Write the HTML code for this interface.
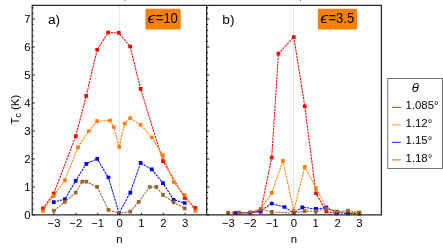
<!DOCTYPE html>
<html><head><meta charset="utf-8"><title>chart</title>
<style>
html,body{margin:0;padding:0;background:#fff;}
body{width:443px;height:248px;overflow:hidden;}
svg{display:block;font-family:"Liberation Sans",sans-serif;}
text{fill:#000;}
</style></head><body>
<svg width="443" height="248" viewBox="0 0 443 248">
<rect width="443" height="248" fill="#fff"/>
<line x1="119.5" y1="6" x2="119.5" y2="215" stroke="#e6e6e6" stroke-width="1"/>
<line x1="293.5" y1="6" x2="293.5" y2="215" stroke="#e6e6e6" stroke-width="1"/>
<g>
<polyline fill="none" stroke="#ff0000" stroke-width="1.05" stroke-dasharray="2.3 0.9" points="42.90,208.40 53.70,193.70 75.80,136.10 86.20,95.95 97.20,49.75 108.20,32.50 118.80,32.95 130.10,46.50 140.60,88.95 163.00,161.20 184.70,197.90 195.40,207.90"/>
<polyline fill="none" stroke="#ff8000" stroke-width="1.05" stroke-dasharray="2.3 0.9" points="42.90,211.00 53.70,195.80 64.90,180.45 77.90,147.40 88.80,131.00 97.10,121.10 110.05,120.50 113.80,127.00 119.20,146.90 124.70,123.65 130.15,118.00 140.55,124.80 151.80,137.50 162.80,155.10 173.60,182.00 184.70,195.20 195.40,210.90"/>
<polyline fill="none" stroke="#0000ff" stroke-width="1.05" stroke-dasharray="2.3 0.9" points="53.70,202.10 64.80,199.45 75.70,180.85 86.30,163.80 97.20,158.80 108.40,177.50 119.10,213.10 130.30,192.55 140.60,162.95 151.80,169.40 163.00,183.20 173.60,199.75 184.70,203.00"/>
<polyline fill="none" stroke="#996633" stroke-width="1.05" stroke-dasharray="2.3 0.9" points="53.90,210.70 64.80,201.95 75.70,192.70 82.20,181.60 86.40,181.60 97.10,186.90 108.40,209.95 119.10,213.10 130.30,211.55 138.70,201.95 149.80,187.00 156.30,186.80 163.00,194.95 173.60,202.30 184.70,208.45"/>
<path fill="#ff0000" d="M41.05 206.55h3.7v3.7h-3.7zM51.85 191.85h3.7v3.7h-3.7zM73.95 134.25h3.7v3.7h-3.7zM84.35 94.10h3.7v3.7h-3.7zM95.35 47.90h3.7v3.7h-3.7zM106.35 30.65h3.7v3.7h-3.7zM116.95 31.10h3.7v3.7h-3.7zM128.25 44.65h3.7v3.7h-3.7zM138.75 87.10h3.7v3.7h-3.7zM161.15 159.35h3.7v3.7h-3.7zM182.85 196.05h3.7v3.7h-3.7zM193.55 206.05h3.7v3.7h-3.7z"/>
<path fill="#ff8000" d="M41.05 209.15h3.7v3.7h-3.7zM51.85 193.95h3.7v3.7h-3.7zM63.05 178.60h3.7v3.7h-3.7zM76.05 145.55h3.7v3.7h-3.7zM86.95 129.15h3.7v3.7h-3.7zM95.25 119.25h3.7v3.7h-3.7zM108.20 118.65h3.7v3.7h-3.7zM111.95 125.15h3.7v3.7h-3.7zM117.35 145.05h3.7v3.7h-3.7zM122.85 121.80h3.7v3.7h-3.7zM128.30 116.15h3.7v3.7h-3.7zM138.70 122.95h3.7v3.7h-3.7zM149.95 135.65h3.7v3.7h-3.7zM160.95 153.25h3.7v3.7h-3.7zM171.75 180.15h3.7v3.7h-3.7zM182.85 193.35h3.7v3.7h-3.7zM193.55 209.05h3.7v3.7h-3.7z"/>
<path fill="#0000ff" d="M51.85 200.25h3.7v3.7h-3.7zM62.95 197.60h3.7v3.7h-3.7zM73.85 179.00h3.7v3.7h-3.7zM84.45 161.95h3.7v3.7h-3.7zM95.35 156.95h3.7v3.7h-3.7zM106.55 175.65h3.7v3.7h-3.7zM117.25 211.25h3.7v3.7h-3.7zM128.45 190.70h3.7v3.7h-3.7zM138.75 161.10h3.7v3.7h-3.7zM149.95 167.55h3.7v3.7h-3.7zM161.15 181.35h3.7v3.7h-3.7zM171.75 197.90h3.7v3.7h-3.7zM182.85 201.15h3.7v3.7h-3.7z"/>
<path fill="#996633" d="M52.05 208.85h3.7v3.7h-3.7zM62.95 200.10h3.7v3.7h-3.7zM73.85 190.85h3.7v3.7h-3.7zM80.35 179.75h3.7v3.7h-3.7zM84.55 179.75h3.7v3.7h-3.7zM95.25 185.05h3.7v3.7h-3.7zM106.55 208.10h3.7v3.7h-3.7zM117.25 211.25h3.7v3.7h-3.7zM128.45 209.70h3.7v3.7h-3.7zM136.85 200.10h3.7v3.7h-3.7zM147.95 185.15h3.7v3.7h-3.7zM154.45 184.95h3.7v3.7h-3.7zM161.15 193.10h3.7v3.7h-3.7zM171.75 200.45h3.7v3.7h-3.7zM182.85 206.60h3.7v3.7h-3.7z"/>
<polyline fill="none" stroke="#ff0000" stroke-width="1.05" stroke-dasharray="2.3 0.9" points="234.70,213.00 260.60,212.00 271.70,157.70 278.40,53.60 293.80,37.10 304.80,106.25 315.90,193.25 326.30,211.50 336.30,213.50"/>
<polyline fill="none" stroke="#ff8000" stroke-width="1.05" stroke-dasharray="2.3 0.9" points="250.30,212.30 260.60,209.20 271.80,192.90 282.90,160.80 293.80,210.70 304.80,166.85 315.90,187.95 326.20,207.20 337.00,212.20 348.10,212.30 359.30,212.30"/>
<polyline fill="none" stroke="#0000ff" stroke-width="1.05" stroke-dasharray="2.3 0.9" points="236.50,213.00 250.30,213.00 260.60,210.90 271.70,203.50 284.50,207.00 293.80,213.00 302.30,207.30 315.90,208.80 326.30,207.75 337.10,212.60 348.10,213.50 359.30,213.60"/>
<polyline fill="none" stroke="#996633" stroke-width="1.05" stroke-dasharray="2.3 0.9" points="228.05,212.70 239.00,212.70 250.40,212.50 260.80,209.10 271.80,211.90 293.80,213.10 304.70,211.10 315.90,211.30 326.30,208.60 337.00,211.60 348.10,210.70 359.30,212.80"/>
<path fill="#ff0000" d="M232.85 211.15h3.7v3.7h-3.7zM258.75 210.15h3.7v3.7h-3.7zM269.85 155.85h3.7v3.7h-3.7zM276.55 51.75h3.7v3.7h-3.7zM291.95 35.25h3.7v3.7h-3.7zM302.95 104.40h3.7v3.7h-3.7zM314.05 191.40h3.7v3.7h-3.7zM324.45 209.65h3.7v3.7h-3.7zM334.45 211.65h3.7v3.7h-3.7z"/>
<path fill="#ff8000" d="M248.45 210.45h3.7v3.7h-3.7zM258.75 207.35h3.7v3.7h-3.7zM269.95 191.05h3.7v3.7h-3.7zM281.05 158.95h3.7v3.7h-3.7zM291.95 208.85h3.7v3.7h-3.7zM302.95 165.00h3.7v3.7h-3.7zM314.05 186.10h3.7v3.7h-3.7zM324.35 205.35h3.7v3.7h-3.7zM335.15 210.35h3.7v3.7h-3.7zM346.25 210.45h3.7v3.7h-3.7zM357.45 210.45h3.7v3.7h-3.7z"/>
<path fill="#0000ff" d="M234.65 211.15h3.7v3.7h-3.7zM248.45 211.15h3.7v3.7h-3.7zM258.75 209.05h3.7v3.7h-3.7zM269.85 201.65h3.7v3.7h-3.7zM282.65 205.15h3.7v3.7h-3.7zM291.95 211.15h3.7v3.7h-3.7zM300.45 205.45h3.7v3.7h-3.7zM314.05 206.95h3.7v3.7h-3.7zM324.45 205.90h3.7v3.7h-3.7zM335.25 210.75h3.7v3.7h-3.7zM346.25 211.65h3.7v3.7h-3.7zM357.45 211.75h3.7v3.7h-3.7z"/>
<path fill="#996633" d="M226.20 210.85h3.7v3.7h-3.7zM237.15 210.85h3.7v3.7h-3.7zM248.55 210.65h3.7v3.7h-3.7zM258.95 207.25h3.7v3.7h-3.7zM269.95 210.05h3.7v3.7h-3.7zM291.95 211.25h3.7v3.7h-3.7zM302.85 209.25h3.7v3.7h-3.7zM314.05 209.45h3.7v3.7h-3.7zM324.45 206.75h3.7v3.7h-3.7zM335.15 209.75h3.7v3.7h-3.7zM346.25 208.85h3.7v3.7h-3.7zM357.45 210.95h3.7v3.7h-3.7z"/>
</g>
<g stroke="#262626" stroke-width="1.25" fill="none">
<path d="M32.2 214.9 V5.35 H381.4 V214.9 Z"/>
<line x1="206.65" y1="5.35" x2="206.65" y2="214.9"/>
</g>
<path d="M32.6 215.00 h2.2 M207.0 215.00 h2.2 M32.6 209.40 h1.1 M207.0 209.40 h1.1 M32.6 203.80 h1.1 M207.0 203.80 h1.1 M32.6 198.20 h1.1 M207.0 198.20 h1.1 M32.6 192.60 h1.1 M207.0 192.60 h1.1 M32.6 187.00 h2.2 M207.0 187.00 h2.2 M32.6 181.40 h1.1 M207.0 181.40 h1.1 M32.6 175.80 h1.1 M207.0 175.80 h1.1 M32.6 170.20 h1.1 M207.0 170.20 h1.1 M32.6 164.60 h1.1 M207.0 164.60 h1.1 M32.6 159.00 h2.2 M207.0 159.00 h2.2 M32.6 153.40 h1.1 M207.0 153.40 h1.1 M32.6 147.80 h1.1 M207.0 147.80 h1.1 M32.6 142.20 h1.1 M207.0 142.20 h1.1 M32.6 136.60 h1.1 M207.0 136.60 h1.1 M32.6 131.00 h2.2 M207.0 131.00 h2.2 M32.6 125.40 h1.1 M207.0 125.40 h1.1 M32.6 119.80 h1.1 M207.0 119.80 h1.1 M32.6 114.20 h1.1 M207.0 114.20 h1.1 M32.6 108.60 h1.1 M207.0 108.60 h1.1 M32.6 103.00 h2.2 M207.0 103.00 h2.2 M32.6 97.40 h1.1 M207.0 97.40 h1.1 M32.6 91.80 h1.1 M207.0 91.80 h1.1 M32.6 86.20 h1.1 M207.0 86.20 h1.1 M32.6 80.60 h1.1 M207.0 80.60 h1.1 M32.6 75.00 h2.2 M207.0 75.00 h2.2 M32.6 69.40 h1.1 M207.0 69.40 h1.1 M32.6 63.80 h1.1 M207.0 63.80 h1.1 M32.6 58.20 h1.1 M207.0 58.20 h1.1 M32.6 52.60 h1.1 M207.0 52.60 h1.1 M32.6 47.00 h2.2 M207.0 47.00 h2.2 M32.6 41.40 h1.1 M207.0 41.40 h1.1 M32.6 35.80 h1.1 M207.0 35.80 h1.1 M32.6 30.20 h1.1 M207.0 30.20 h1.1 M32.6 24.60 h1.1 M207.0 24.60 h1.1 M32.6 19.00 h2.2 M207.0 19.00 h2.2 M32.6 13.40 h1.1 M207.0 13.40 h1.1 M32.6 7.80 h1.1 M207.0 7.80 h1.1 M53.96 214.6 V212.9 M75.83 214.6 V212.9 M97.70 214.6 V212.9 M119.57 214.6 V212.9 M141.44 214.6 V212.9 M163.31 214.6 V212.9 M185.18 214.6 V212.9 M228.38 214.6 V212.9 M250.22 214.6 V212.9 M272.06 214.6 V212.9 M293.90 214.6 V212.9 M315.74 214.6 V212.9 M337.58 214.6 V212.9 M359.42 214.6 V212.9" stroke="#1a1a1a" stroke-width="1" fill="none"/>
<rect x="145.4" y="8.8" width="35.3" height="20.6" rx="1.2" fill="#ff8000"/>
<rect x="317.8" y="8.8" width="39.4" height="20.6" rx="1.2" fill="#ff8000"/>
<rect x="387.8" y="78.4" width="54.6" height="90" fill="#fff" stroke="#4d4d4d" stroke-width="0.8"/>
<g style="opacity:0.999">
<g font-size="11.35" text-anchor="end">
<text x="30.6" y="218.9">0</text>
<text x="30.6" y="190.9">1</text>
<text x="30.6" y="162.9">2</text>
<text x="30.6" y="134.9">3</text>
<text x="30.6" y="106.9">4</text>
<text x="30.6" y="78.9">5</text>
<text x="30.6" y="50.9">6</text>
<text x="30.6" y="22.9">7</text>
</g>
<g font-size="11.35" text-anchor="middle">
<text x="54.0" y="226.6">−3</text>
<text x="75.8" y="226.6">−2</text>
<text x="97.7" y="226.6">−1</text>
<text x="119.6" y="226.6">0</text>
<text x="141.4" y="226.6">1</text>
<text x="163.3" y="226.6">2</text>
<text x="185.2" y="226.6">3</text>
<text x="228.4" y="226.6">−3</text>
<text x="250.2" y="226.6">−2</text>
<text x="272.1" y="226.6">−1</text>
<text x="293.9" y="226.6">0</text>
<text x="315.7" y="226.6">1</text>
<text x="337.6" y="226.6">2</text>
<text x="359.4" y="226.6">3</text>
</g>
<text x="119.3" y="242.8" font-size="11.35" text-anchor="middle">n</text>
<text x="293.9" y="242.8" font-size="11.35" text-anchor="middle">n</text>
<text transform="translate(19.2,124.4) rotate(-90)" font-size="11.35">T<tspan font-size="8.8" dy="2.1">c</tspan><tspan dy="-2.1"> (K)</tspan></text>
<text x="47.9" y="23.7" font-size="13.7">a)</text>
<text x="222.3" y="23.7" font-size="13.7">b)</text>
<text transform="translate(147.50,23.40) scale(1.25,1)" font-size="14" font-style="italic">ϵ</text>
<text transform="translate(155.80,23.40) scale(0.93,1)" font-size="14">=10</text>
<text transform="translate(320.20,23.40) scale(1.25,1)" font-size="14" font-style="italic">ϵ</text>
<text transform="translate(328.50,23.40) scale(0.93,1)" font-size="14">=3.5</text>
<text x="415.3" y="91.7" font-size="13.1" font-style="italic" text-anchor="middle">θ</text>
<line x1="392.2" y1="107.35" x2="400.8" y2="107.35" stroke="#ff1a1a" stroke-width="1"/>
<text x="405.6" y="109.0" font-size="11.35">1.085°</text>
<line x1="392.2" y1="124.95" x2="400.8" y2="124.95" stroke="#ff8a14" stroke-width="1"/>
<text x="405.6" y="126.8" font-size="11.35">1.12°</text>
<line x1="392.2" y1="142.30" x2="400.8" y2="142.30" stroke="#1a1aff" stroke-width="1"/>
<text x="405.6" y="144.1" font-size="11.35">1.15°</text>
<line x1="392.2" y1="159.90" x2="400.8" y2="159.90" stroke="#a07040" stroke-width="1"/>
<text x="405.6" y="161.8" font-size="11.35">1.18°</text>
</g>
<rect x="124.2" y="0" width="1" height="0.8" fill="#444"/>
<rect x="300" y="0" width="1" height="0.8" fill="#444"/>
</svg>
</body></html>
